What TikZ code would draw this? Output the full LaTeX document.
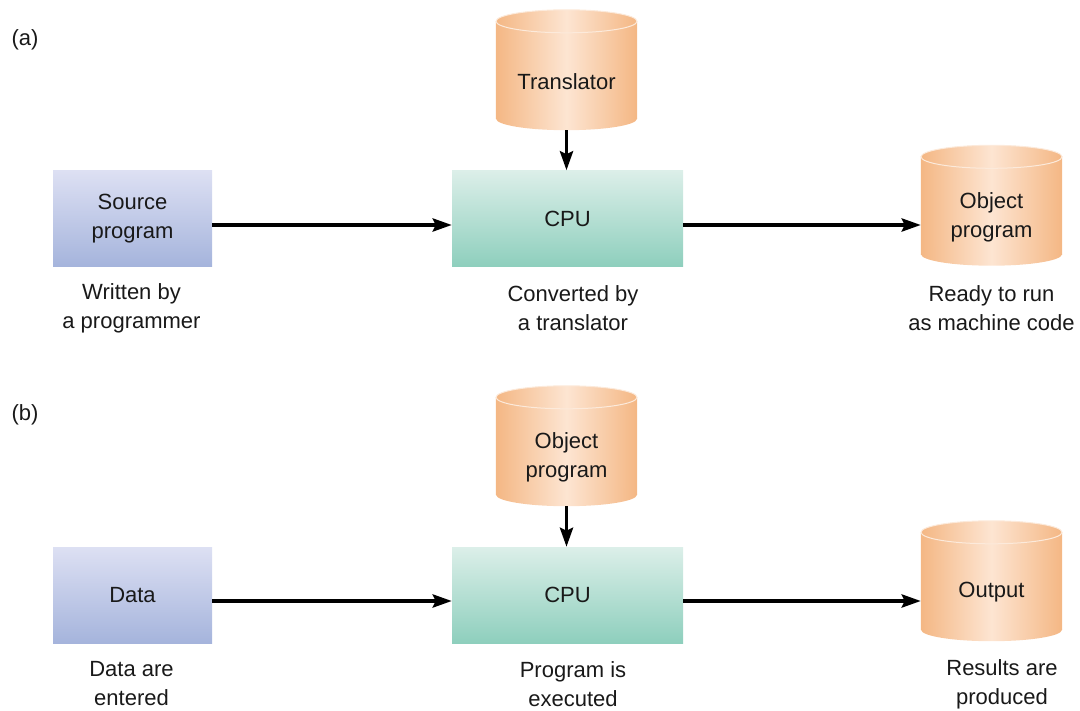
\documentclass[tikz,border=0pt]{standalone}
\usepackage{fontspec}
\setmainfont{Liberation Sans}
\usetikzlibrary{arrows.meta,calc,backgrounds}

\definecolor{boxtop}{HTML}{DDE0F3}
\definecolor{boxbot}{HTML}{A5B4DC}
\definecolor{cputop}{HTML}{DCEFE9}
\definecolor{cpubot}{HTML}{8ECFBD}
\definecolor{cyledge}{HTML}{F4B784}
\definecolor{cylmid}{HTML}{FDE5D2}
\definecolor{cylrim}{HTML}{FCEADB}

\tikzset{
  txt/.style={font=\fontsize{22}{29}\selectfont, align=center, text=black!90},
  inbox/.style={txt, minimum width=159pt, minimum height=96pt, inner sep=0pt,
    top color=boxtop, bottom color=boxbot},
  cpubox/.style={txt, minimum width=231pt, minimum height=96pt, inner sep=0pt,
    top color=cputop, bottom color=cpubot},
  store/.style={txt, minimum width=141pt, minimum height=97pt, inner sep=0pt},
  cylshade/.style={left color=cyledge, right color=cyledge, middle color=cylmid},
  arr/.style={line width=3.8pt, -{Stealth[length=19pt,width=13pt,inset=3pt]}},
  tag/.style={txt}
}

% Cylinder drawn behind a store node: the node is the body below the lid
\newcommand\drumbehind[1]{%
  \shade[cylshade] ($(#1.north west)+(0,-11.5)$) rectangle ($(#1.south east)+(0,-11.5)$);
  \shade[cylshade] ($(#1.south)+(0,-11.5)$) ellipse [x radius=70.5, y radius=11.5];
  \shade[cylshade, draw=cylrim, line width=1pt]
    ($(#1.north)+(0,-11.5)$) ellipse [x radius=70.5, y radius=11.5];
}

\begin{document}
\begin{tikzpicture}[x=1pt, y=-1pt]
\useasboundingbox (0,0) rectangle (1080,711);

% ---------- (a) translation ----------
\node[tag] (la) at (25,40) {(a)};
\node[inbox]  (src)  at (132.5,218.5) {Source\\program};
\node[cpubox] (cpua) at (567.5,218.5) {CPU};
\node[store]  (tr)   at (566.5,81.5)  {Translator};
\node[store]  (obja) at (991.5,217)   {Object\\program};

\node[tag] (ta1) at (131.5,308.5) {Written by\\a programmer};
\node[tag] (ta2) at (573,308.5)   {Converted by\\a translator};
\node[tag] (ta3) at (991.5,308.5) {Ready to run\\as machine code};

\coordinate (rowa) at (0,225);
\draw[arr] (src.east |- rowa) -- (cpua.west |- rowa);
\draw[arr] (cpua.east |- rowa) -- (obja.west |- rowa);
\draw[arr] (tr.south) -- (tr.south |- cpua.north);

% ---------- (b) execution ----------
\node[tag] (lb) at (25,415) {(b)};
\node[inbox]  (dat)  at (132.5,595) {Data};
\node[cpubox] (cpub) at (567.5,595) {CPU};
\node[store]  (objb) at (566.5,457.5) {Object\\program};
\node[store]  (outp) at (991.5,592.5) {Output};

\node[tag] (tb1) at (131.5,684) {Data are\\entered};
\node[tag] (tb2) at (573,684)   {Program is\\executed};
\node[tag] (tb3) at (1002,684)  {Results are\\produced};

\coordinate (rowb) at (0,601);
\draw[arr] (dat.east |- rowb) -- (cpub.west |- rowb);
\draw[arr] (cpub.east |- rowb) -- (outp.west |- rowb);
\draw[arr] (objb.south) -- (objb.south |- cpub.north);

\begin{scope}[on background layer]
  \drumbehind{tr}
  \drumbehind{obja}
  \drumbehind{objb}
  \drumbehind{outp}
\end{scope}
\end{tikzpicture}
\end{document}
